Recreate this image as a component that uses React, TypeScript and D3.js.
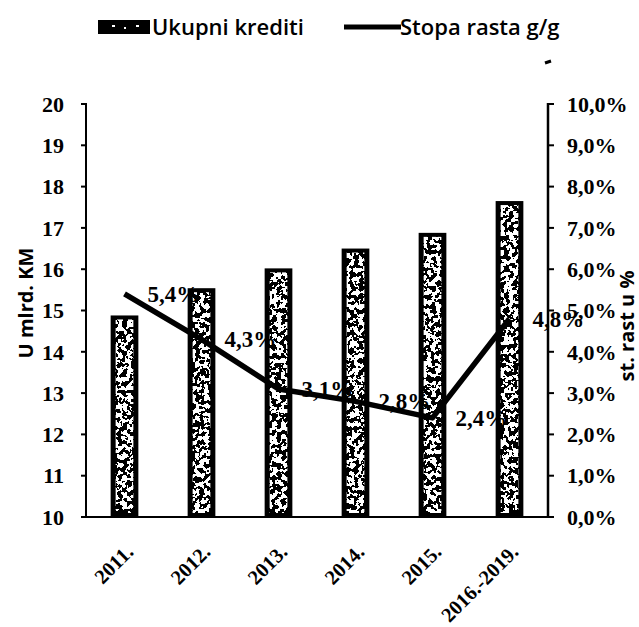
import React from "react";
import * as d3 from "d3";

const categories = ["2011.", "2012.", "2013.", "2014.", "2015.", "2016.-2019."];
const credits = [14.88, 15.54, 16.02, 16.5, 16.88, 17.65];
const growth = [5.4, 4.3, 3.1, 2.8, 2.4, 4.8];
const growthLabels = ["5,4%", "4,3%", "3,1%", "2,8%", "2,4%", "4,8%"];
const leftTicks = [10, 11, 12, 13, 14, 15, 16, 17, 18, 19, 20];
const rightTicks = [0, 1, 2, 3, 4, 5, 6, 7, 8, 9, 10];
const rightTickLabels = ["0,0%", "1,0%", "2,0%", "3,0%", "4,0%", "5,0%", "6,0%", "7,0%", "8,0%", "9,0%", "10,0%"];
const legendLabels = ["Ukupni krediti", "Stopa rasta g/g"];
const leftTitle = "U mlrd. KM";
const rightTitle = "st. rast u %";

const W = 639;
const H = 627;
const X0 = 86;
const X1 = 548;
const YTOP = 104;
const YBOT = 517;

const serif = "'Liberation Serif', 'DejaVu Serif', serif";
const sans = "'Open Sans', 'Liberation Sans', sans-serif";

export default function App() {
  const x = d3.scaleBand<string>().domain(categories).range([X0, X1]).paddingInner(0.64).paddingOuter(0.32);
  const yL = d3.scaleLinear().domain([10, 20]).range([YBOT, YTOP]);
  const yR = d3.scaleLinear().domain([0, 10]).range([YBOT, YTOP]);
  const bw = x.bandwidth();
  const cx = (c: string) => (x(c) as number) + bw / 2;

  const line = d3
    .line<number>()
    .x((_, i) => cx(categories[i]))
    .y((d) => yR(d));

  return (
    <svg
      width={W}
      height={H}
      viewBox={`0 0 ${W} ${H}`}
      style={{ position: "absolute", left: 0, top: 0, display: "block", background: "#fff" }}
    >
      <defs>
        <filter id="speckle" x="0" y="0" width="1" height="1" filterUnits="objectBoundingBox">
          <feTurbulence type="fractalNoise" baseFrequency="0.22" numOctaves="2" seed="7" result="n" />
          <feColorMatrix
            in="n"
            type="matrix"
            values="0.7 0.7 0.7 0 -0.55  0.7 0.7 0.7 0 -0.55  0.7 0.7 0.7 0 -0.55  0 0 0 0 1"
            result="g"
          />
          <feComponentTransfer in="g" result="t">
            <feFuncR type="discrete" tableValues="0 1" />
            <feFuncG type="discrete" tableValues="0 1" />
            <feFuncB type="discrete" tableValues="0 1" />
          </feComponentTransfer>
          <feComposite in="t" in2="SourceGraphic" operator="in" />
        </filter>
      </defs>

      {/* Legend */}
      <g>
        <rect x={98} y={20} width={52} height={14} fill="#000" />
        <rect x={112} y={25} width={3} height={2} fill="#fff" />
        <rect x={124} y={27} width={2} height={2} fill="#fff" />
        <rect x={136} y={25} width={3} height={2} fill="#fff" />
        <text x={152} y={35} fontFamily={sans} fontWeight={600} fontSize={22} fill="#000">
          {legendLabels[0]}
        </text>
        <line x1={344} x2={401} y1={27} y2={27} stroke="#000" strokeWidth={5} />
        <text x={400} y={35} fontFamily={sans} fontWeight={600} fontSize={22} fill="#000">
          {legendLabels[1]}
        </text>
      </g>

      {/* stray mark */}
      <line x1={545} x2={551} y1={63} y2={61} stroke="#000" strokeWidth={3} />

      {/* Bars */}
      {categories.map((c, i) => {
        const top = yL(credits[i]);
        const bx = x(c) as number;
        return (
          <g key={c}>
            <rect x={bx} y={top} width={bw} height={YBOT - top} fill="#000" />
            <rect
              x={bx + 5}
              y={top + 4}
              width={bw - 10}
              height={YBOT - top - 8}
              fill="#fff"
              filter="url(#speckle)"
            />
          </g>
        );
      })}

      {/* Axes */}
      <line x1={X0} x2={X0} y1={YTOP - 1} y2={YBOT} stroke="#000" strokeWidth={2} />
      <line x1={X1} x2={X1} y1={YTOP - 1} y2={YBOT} stroke="#000" strokeWidth={2.5} />
      <line x1={X0} x2={X1} y1={YBOT} y2={YBOT} stroke="#000" strokeWidth={2} />

      {leftTicks.map((t) => (
        <g key={"l" + t}>
          <line x1={X0 - 5} x2={X0} y1={yL(t)} y2={yL(t)} stroke="#000" strokeWidth={2} />
          <text
            x={X0 - 22}
            y={yL(t)}
            dy="0.35em"
            textAnchor="end"
            fontFamily={serif}
            fontWeight="bold"
            fontSize={22}
            fill="#000"
          >
            {t}
          </text>
        </g>
      ))}

      {rightTicks.map((t, i) => (
        <g key={"r" + t}>
          <line x1={X1} x2={X1 + 6} y1={yR(t)} y2={yR(t)} stroke="#000" strokeWidth={2} />
          <text
            x={X1 + 19}
            y={yR(t)}
            dy="0.35em"
            textAnchor="start"
            fontFamily={serif}
            fontWeight="bold"
            fontSize={22}
            fill="#000"
          >
            {rightTickLabels[i]}
          </text>
        </g>
      ))}

      {/* Line */}
      <path d={line(growth) || ""} fill="none" stroke="#000" strokeWidth={5.5} strokeLinejoin="round" />

      {/* Data labels */}
      {growth.map((g, i) => (
        <text
          key={"dl" + i}
          x={cx(categories[i]) + 23}
          y={yR(g)}
          dy="0.35em"
          fontFamily={serif}
          fontWeight="bold"
          fontSize={23}
          fill="#000"
        >
          {growthLabels[i]}
        </text>
      ))}

      {/* X labels */}
      {categories.map((c) => {
        const px = cx(c) + 5;
        const py = YBOT + 31;
        return (
          <text
            key={"x" + c}
            transform={`translate(${px},${py}) rotate(-45)`}
            textAnchor="end"
            dy="0.35em"
            fontFamily={serif}
            fontWeight="bold"
            fontSize={20.5}
            fill="#000"
          >
            {c}
          </text>
        );
      })}

      {/* Axis titles */}
      <text
        transform={`translate(${33},${303}) rotate(-90)`}
        textAnchor="middle"
        fontFamily={sans}
        fontWeight={700}
        fontSize={20}
        fill="#000"
      >
        {leftTitle}
      </text>
      <text
        transform={`translate(${634},${326}) rotate(-90)`}
        textAnchor="middle"
        fontFamily={sans}
        fontWeight={700}
        fontSize={20}
        fill="#000"
      >
        {rightTitle}
      </text>
    </svg>
  );
}
